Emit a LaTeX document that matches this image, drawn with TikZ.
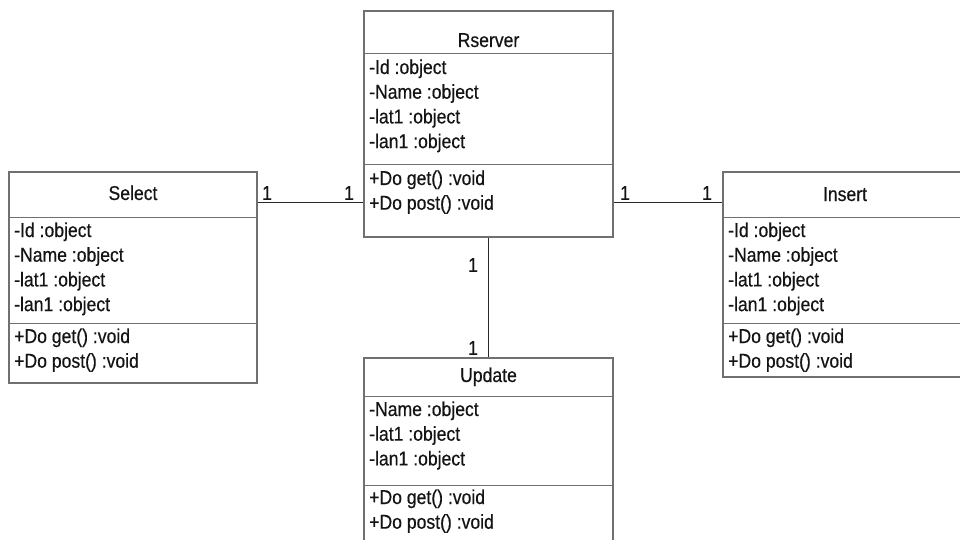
\documentclass[tikz,border=0pt]{standalone}
\usepackage{fontspec}
\setmainfont{Liberation Sans}[FakeStretch=0.88, FakeBold=0.4]
\definecolor{boxgray}{RGB}{112,112,112}
\definecolor{linkgray}{RGB}{40,40,40}
\definecolor{inkgray}{RGB}{20,20,20}
% one feature line per entry, baselines 24.7 units apart
\newcommand\classlines[4]{%
  \foreach \t [count=\i] in {#4}
    \node[member] (#1\i) at (#2, {#3+(\i-1)*24.7}) {\t};%
}
\begin{document}
\begin{tikzpicture}[x=1pt, y=-1pt,
  font=\fontsize{20}{24}\selectfont,
  classbox/.style={draw=boxgray, line width=1.2pt, fill=white, rectangle, inner sep=0pt},
  divider/.style={draw=boxgray, line width=1.2pt},
  link/.style={draw=linkgray, line width=1.3pt},
  member/.style={anchor=base west, inner sep=0pt, text=inkgray},
  title/.style={anchor=base, inner sep=0pt, text=inkgray},
  mult/.style={anchor=center, inner sep=0pt, text=inkgray}]
\useasboundingbox (0,0) rectangle (960,540);
\clip (0,0) rectangle (960,540);

% class boxes
\node[classbox, minimum width=249pt, minimum height=226pt] (rserver) at (488.5,124) {};
\node[classbox, minimum width=248pt, minimum height=211pt] (select) at (133,277.5) {};
\node[classbox, minimum width=244pt, minimum height=205pt] (insert) at (845,274.5) {};
\node[classbox, minimum width=249pt, minimum height=192pt] (update) at (488.5,454) {};

% compartment dividers
\draw[divider] ([yshift=-43pt]rserver.north west) -- ([yshift=-43pt]rserver.north east);
\draw[divider] ([yshift=-154pt]rserver.north west) -- ([yshift=-154pt]rserver.north east);
\draw[divider] ([yshift=-46pt]select.north west) -- ([yshift=-46pt]select.north east);
\draw[divider] ([yshift=-152pt]select.north west) -- ([yshift=-152pt]select.north east);
\draw[divider] ([yshift=-46pt]insert.north west) -- ([yshift=-46pt]insert.north east);
\draw[divider] ([yshift=-152pt]insert.north west) -- ([yshift=-152pt]insert.north east);
\draw[divider] ([yshift=-39pt]update.north west) -- ([yshift=-39pt]update.north east);
\draw[divider] ([yshift=-128pt]update.north west) -- ([yshift=-128pt]update.north east);

% class names
\node[title] (rserver-name) at (488.5,47) {Rserver};
\node[title] (select-name) at (133,200) {Select};
\node[title] (insert-name) at (845,201) {Insert};
\node[title] (update-name) at (488.5,382) {Update};

% attributes and operations
\classlines{rserver-a}{369}{74}{-Id :object,-Name :object,-lat1 :object,-lan1 :object}
\classlines{rserver-o}{369}{185}{+Do get() :void,+Do post() :void}
\classlines{select-a}{14}{237}{-Id :object,-Name :object,-lat1 :object,-lan1 :object}
\classlines{select-o}{14}{343}{+Do get() :void,+Do post() :void}
\classlines{insert-a}{728}{237}{-Id :object,-Name :object,-lat1 :object,-lan1 :object}
\classlines{insert-o}{728}{343}{+Do get() :void,+Do post() :void}
\classlines{update-a}{369}{416}{-Name :object,-lat1 :object,-lan1 :object}
\classlines{update-o}{369}{504}{+Do get() :void,+Do post() :void}

% associations
\draw[link] ([yshift=-31pt]select.north east) coordinate (sel-end)
  -- (sel-end -| rserver.west) coordinate (rs-left);
\draw[link] (rs-left -| rserver.east) coordinate (rs-right)
  -- (rs-right -| insert.west);
\draw[link] (rserver.south) -- (update.north);

% multiplicities
\node[mult] (m1) at (267,193) {1};
\node[mult] (m2) at (349,193) {1};
\node[mult] (m3) at (625,193) {1};
\node[mult] (m4) at (707,193) {1};
\node[mult] (m5) at (473,265) {1};
\node[mult] (m6) at (473,348) {1};
\end{tikzpicture}
\end{document}
